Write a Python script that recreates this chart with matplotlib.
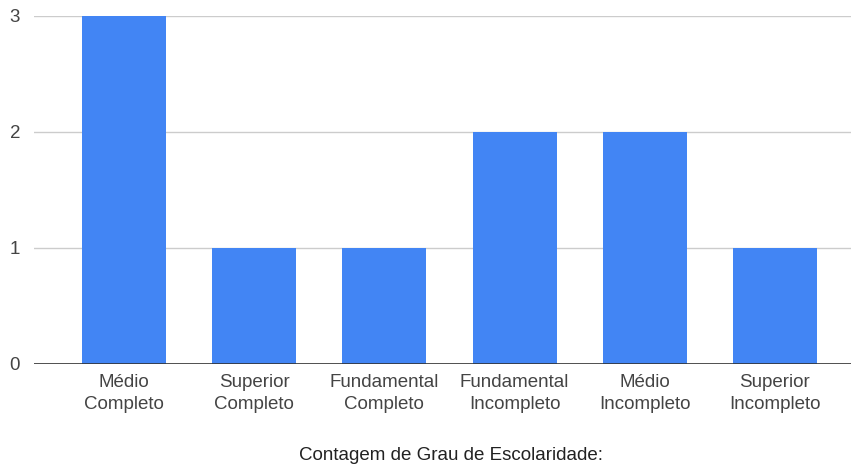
import matplotlib.pyplot as plt
import numpy as np

categorias = ['Médio\nCompleto', 'Superior\nCompleto', 'Fundamental\nCompleto',
              'Fundamental\nIncompleto', 'Médio\nIncompleto', 'Superior\nIncompleto']
contagem = [3, 1, 1, 2, 2, 1]
yticks = [0, 1, 2, 3]

plt.rcParams['font.family'] = ['Liberation Sans', 'DejaVu Sans']

fig = plt.figure(figsize=(8.51, 4.66), dpi=100)
ax = fig.add_axes([34 / 851, 1 - 364 / 466, 1 - 34 / 851, (364 - 16) / 466])

x = np.arange(len(categorias))
ax.bar(x, contagem, width=0.645, color='#4285f4', zorder=3)

ax.set_xlim(-0.691, 5.584)
ax.set_ylim(0, 3)
ax.set_yticks(yticks)
ax.set_yticklabels([str(v) for v in yticks])
ax.set_xticks(x)
ax.set_xticklabels(categorias, linespacing=1.4)
ax.grid(axis='y', color='#cccccc', linewidth=1, zorder=0)
ax.axhline(0, color='#333333', linewidth=1.2, zorder=4)

for s in ['top', 'right', 'left', 'bottom']:
    ax.spines[s].set_visible(False)
ax.tick_params(axis='both', length=0, labelsize=13.5, colors='#444444')
ax.tick_params(axis='y', pad=10)
ax.tick_params(axis='x', pad=7)

fig.text(451 / 851, 1 - 455 / 466, 'Contagem de Grau de Escolaridade:',
         ha='center', va='center', fontsize=13.5, color='#222222')

fig.savefig('out.png', dpi=100)
